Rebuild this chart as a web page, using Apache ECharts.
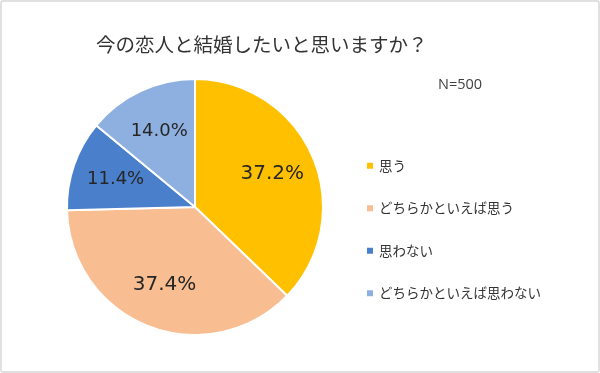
<!DOCTYPE html>
<html><head><meta charset="utf-8">
<script src="https://cdn.jsdelivr.net/npm/echarts@6/dist/echarts.min.js"></script>
<style>
html,body{margin:0;padding:0;background:#fff;}
#c{width:600px;height:373px;box-sizing:border-box;border:2px solid #e0e0e0;border-radius:3px;background:#fff;}
</style></head>
<body><div id="c"></div>
<script>
const titleText = '今の恋人と結婚したいと思いますか？';
const noteText = 'N=500';
const categories = ['思う', 'どちらかといえば思う', '思わない', 'どちらかといえば思わない'];
const values = [37.2, 37.4, 11.4, 14.0];
const colors = ['#FFC000', '#F8BD91', '#4A7FCC', '#8EB0E0'];
const labelSizes = [20, 20, 18, 18];

const chart = echarts.init(document.getElementById('c'));
const jp = '"Noto Sans CJK JP", "Noto Sans", sans-serif';
chart.setOption({
  animation: false,
  title: [
    { text: titleText, left: 89, top: 28, textStyle: { fontFamily: jp, fontSize: 19.5, fontWeight: 'normal', color: '#333' } },
    { text: noteText, left: 431, top: 70, textStyle: { fontFamily: '"Open Sans", "Noto Sans", sans-serif', fontSize: 14.5, fontWeight: 'normal', color: '#404040' } }
  ],
  legend: {
    orient: 'vertical', left: 358, top: 152,
    icon: 'rect', itemWidth: 8, itemHeight: 8, itemGap: 29, itemTextGap: 7,
    data: categories,
    textStyle: { fontFamily: jp, fontSize: 13.5, color: '#333' }
  },
  series: [
    {
      type: 'pie', center: [193, 205], radius: [0, 128],
      startAngle: 90, clockwise: true, silent: true,
      itemStyle: { borderColor: '#fff', borderWidth: 2 },
      label: { show: false }, labelLine: { show: false },
      data: categories.map((n, i) => ({ name: n, value: values[i], itemStyle: { color: colors[i] } }))
    },
    {
      type: 'pie', center: [193, 205], radius: [0, 162],
      startAngle: 90, clockwise: true, silent: true,
      itemStyle: { color: 'rgba(0,0,0,0)', borderWidth: 0 },
      label: { show: true, position: 'inside', fontFamily: '"DejaVu Sans", Verdana, sans-serif', color: '#262626',
               formatter: p => p.value.toFixed(1) + '%' },
      labelLine: { show: false },
      data: categories.map((n, i) => ({ name: n, value: values[i], label: { fontSize: labelSizes[i] } }))
    }
  ]
});
</script></body></html>
